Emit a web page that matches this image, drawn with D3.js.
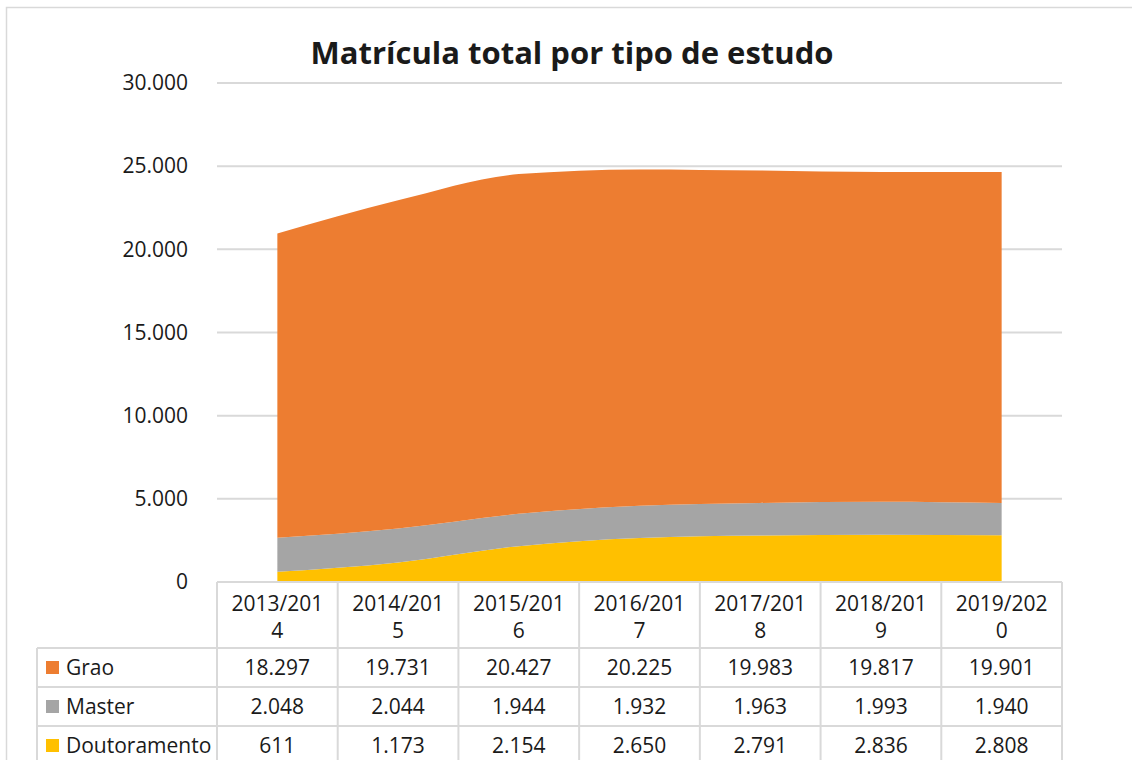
<!DOCTYPE html>
<html>
<head>
<meta charset="utf-8">
<script src="https://cdn.jsdelivr.net/npm/d3@7"></script>
<style>
  body { margin: 0; background: #fff; }
  text { font-family: "Open Sans", "DejaVu Sans", sans-serif; fill: #1a1a1a; }
</style>
</head>
<body>
<svg id="chart" width="1132" height="760"></svg>
<script>
// data
const categories = ["2013/2014", "2014/2015", "2015/2016", "2016/2017", "2017/2018", "2018/2019", "2019/2020"];
const grao = [18297, 19731, 20427, 20225, 19983, 19817, 19901];
const master = [2048, 2044, 1944, 1932, 1963, 1993, 1940];
const doutoramento = [611, 1173, 2154, 2650, 2791, 2836, 2808];
const yTicks = [0, 5000, 10000, 15000, 20000, 25000, 30000];

const seriesNames = ["Grao", "Master", "Doutoramento"];   // table order
const colors = { Grao: "#ED7D31", Master: "#A5A5A5", Doutoramento: "#FFC000" };

const width = 1132, height = 760;
const marginLeft = 217, plotRight = 1062, plotTop = 83, plotBottom = 582;
const gridColor = "#d9d9d9";
const fontSize = "21px";

const rows = categories.map((c, i) => ({
  cat: c, Grao: grao[i], Master: master[i], Doutoramento: doutoramento[i]
}));

const loc = d3.formatLocale({ decimal: ",", thousands: ".", grouping: [3], currency: ["", "€"] });
const fmt = loc.format(",d");

const svg = d3.select("#chart");

// outer frame
svg.append("rect")
  .attr("x", 6.5).attr("y", 7.5)
  .attr("width", 1140).attr("height", 800)
  .attr("fill", "none").attr("stroke", gridColor).attr("stroke-width", 1.5);

const x = d3.scaleBand(categories, [marginLeft, plotRight]);
const y = d3.scaleLinear([0, 30000], [plotBottom, plotTop]);
const cx = d => x(d) + x.bandwidth() / 2;

// gridlines
svg.append("g")
  .selectAll("line")
  .data(yTicks.filter(t => t > 0))
  .join("line")
  .attr("x1", marginLeft).attr("x2", plotRight)
  .attr("y1", d => y(d)).attr("y2", d => y(d))
  .attr("stroke", gridColor).attr("stroke-width", 2);

// y axis labels
svg.append("g")
  .attr("transform", `translate(${marginLeft},0)`)
  .call(d3.axisLeft(y).tickValues(yTicks).tickFormat(fmt).tickSize(0).tickPadding(29))
  .call(g => g.select(".domain").remove())
  .call(g => g.selectAll("text")
    .style("font-family", '"Open Sans", sans-serif')
    .style("font-size", fontSize)
    .attr("fill", "#1a1a1a"));

// stacked areas
const stack = d3.stack().keys(["Doutoramento", "Master", "Grao"]);
const layers = stack(rows);
const area = d3.area()
  .x(d => cx(d.data.cat))
  .y0(d => y(d[0]))
  .y1(d => y(d[1]))
  .curve(d3.curveMonotoneX);

svg.append("g")
  .selectAll("path")
  .data(layers)
  .join("path")
  .attr("fill", d => colors[d.key])
  .attr("d", area);

// title
svg.append("text")
  .attr("x", 572).attr("y", 64)
  .attr("text-anchor", "middle")
  .style("font-size", "31px")
  .style("font-weight", "bold")
  .text("Matrícula total por tipo de estudo");

// data table
const headerTop = plotBottom, headerBottom = 648;
const rowH = 39;
const legendLeft = 37;
const tbl = svg.append("g");

// horizontal lines
const hLines = [
  { y: headerTop, x1: marginLeft },
  { y: headerBottom, x1: legendLeft },
  { y: headerBottom + rowH, x1: legendLeft },
  { y: headerBottom + 2 * rowH, x1: legendLeft },
  { y: headerBottom + 3 * rowH, x1: legendLeft }
];
tbl.selectAll("line.h")
  .data(hLines)
  .join("line")
  .attr("class", "h")
  .attr("x1", d => d.x1).attr("x2", plotRight)
  .attr("y1", d => d.y).attr("y2", d => d.y)
  .attr("stroke", gridColor).attr("stroke-width", 2);

// vertical lines
const colEdges = categories.map(c => x(c)).concat([plotRight]);
tbl.selectAll("line.v")
  .data(colEdges)
  .join("line")
  .attr("class", "v")
  .attr("x1", d => d).attr("x2", d => d)
  .attr("y1", headerTop).attr("y2", height + 10)
  .attr("stroke", gridColor).attr("stroke-width", 2);
tbl.append("line")
  .attr("x1", legendLeft).attr("x2", legendLeft)
  .attr("y1", headerBottom).attr("y2", height + 10)
  .attr("stroke", gridColor).attr("stroke-width", 2);

// header labels (wrapped like Excel does)
const hdr = tbl.selectAll("text.hdr")
  .data(categories)
  .join("text")
  .attr("class", "hdr")
  .attr("text-anchor", "middle")
  .style("font-size", fontSize);
hdr.append("tspan")
  .attr("x", d => cx(d)).attr("y", 611)
  .text(d => d.slice(0, 8));
hdr.append("tspan")
  .attr("x", d => cx(d)).attr("y", 638)
  .text(d => d.slice(8));

// rows
seriesNames.forEach((name, r) => {
  const top = headerBottom + r * rowH;
  const mid = top + rowH / 2;
  tbl.append("rect")
    .attr("x", 46).attr("y", mid - 6.5)
    .attr("width", 13).attr("height", 13)
    .attr("fill", colors[name]);
  tbl.append("text")
    .attr("x", 66).attr("y", mid)
    .attr("dy", "0.35em")
    .style("font-size", fontSize)
    .text(name);
  tbl.selectAll(null)
    .data(rows)
    .join("text")
    .attr("x", d => cx(d.cat)).attr("y", mid)
    .attr("dy", "0.35em")
    .attr("text-anchor", "middle")
    .style("font-size", fontSize)
    .text(d => fmt(d[name]));
});
</script>
</body>
</html>
